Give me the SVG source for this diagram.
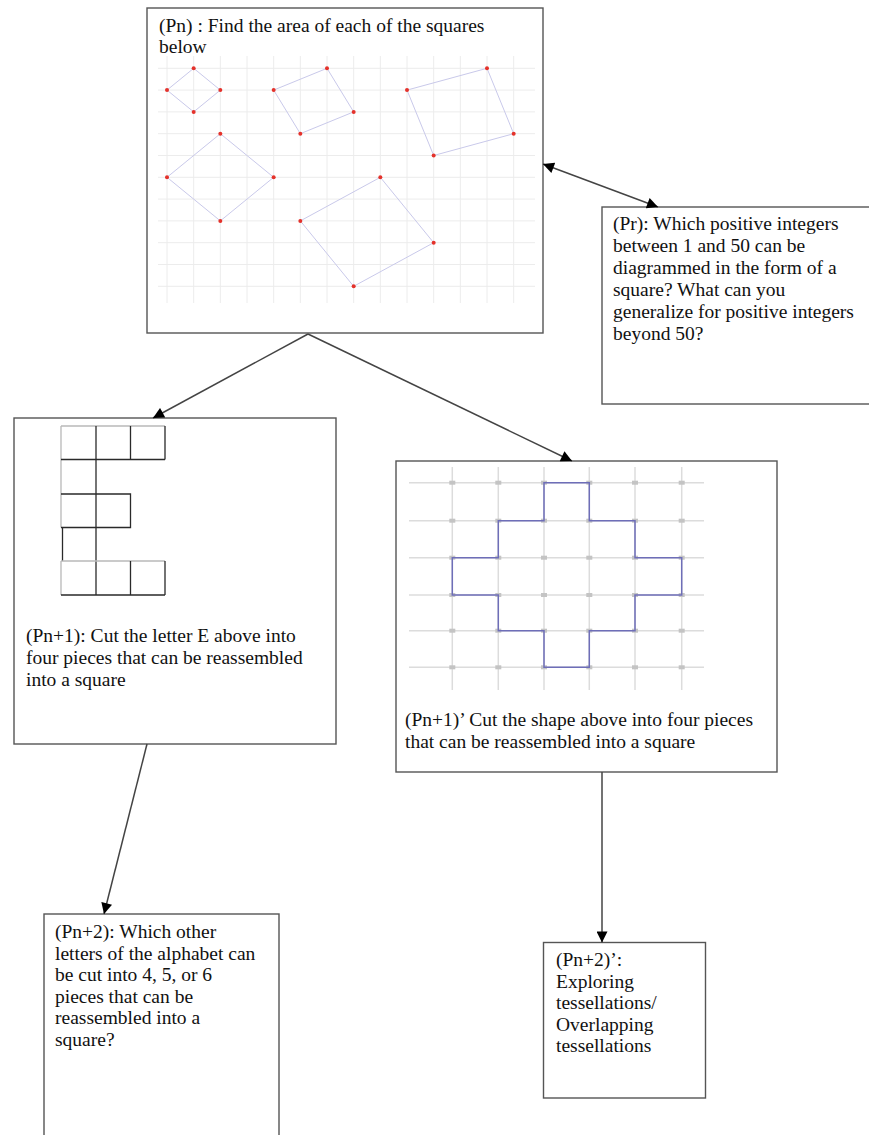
<svg xmlns="http://www.w3.org/2000/svg" width="869" height="1135" viewBox="0 0 869 1135">
<style>
.box{fill:#fff;stroke:#555;stroke-width:1.4}
.t{font-family:"Liberation Serif","Times New Roman",serif;font-size:19.5px;fill:#111}
.g{stroke:#ececec;stroke-width:1}
.sq{fill:none;stroke:#c9c9ea;stroke-width:1}
.dot{fill:#e4322b}
.e1{stroke:#2a2a2a;stroke-width:1.3;fill:none}
.e2{stroke:#b8b8b8;stroke-width:1.3;fill:none}
.cg{stroke:#dcdcdc;stroke-width:1.5}
.cm{fill:#c4c4c4}
.cr{fill:none;stroke:#6e6eb8;stroke-width:1.5}
.c{stroke:#444;stroke-width:1.5;fill:none}
</style>
<defs>
<marker id="ah" viewBox="0 0 10 10" refX="10" refY="5" markerWidth="12" markerHeight="11" markerUnits="userSpaceOnUse" orient="auto-start-reverse">
<path d="M0,0 L10,5 L0,10 z" fill="#000"/>
</marker>
</defs>

<g id="pn">
<rect class="box" x="147" y="8" width="396" height="325"/>
<g>
<line class="g" x1="167" y1="56" x2="167" y2="303"/>
<line class="g" x1="193.67" y1="56" x2="193.67" y2="303"/>
<line class="g" x1="220.33" y1="56" x2="220.33" y2="303"/>
<line class="g" x1="247" y1="56" x2="247" y2="303"/>
<line class="g" x1="273.67" y1="56" x2="273.67" y2="303"/>
<line class="g" x1="300.33" y1="56" x2="300.33" y2="303"/>
<line class="g" x1="327" y1="56" x2="327" y2="303"/>
<line class="g" x1="353.67" y1="56" x2="353.67" y2="303"/>
<line class="g" x1="380.33" y1="56" x2="380.33" y2="303"/>
<line class="g" x1="407" y1="56" x2="407" y2="303"/>
<line class="g" x1="433.67" y1="56" x2="433.67" y2="303"/>
<line class="g" x1="460.33" y1="56" x2="460.33" y2="303"/>
<line class="g" x1="487" y1="56" x2="487" y2="303"/>
<line class="g" x1="513.67" y1="56" x2="513.67" y2="303"/>
<line class="g" x1="158" y1="68.3" x2="535" y2="68.3"/>
<line class="g" x1="158" y1="90.1" x2="535" y2="90.1"/>
<line class="g" x1="158" y1="111.9" x2="535" y2="111.9"/>
<line class="g" x1="158" y1="133.7" x2="535" y2="133.7"/>
<line class="g" x1="158" y1="155.5" x2="535" y2="155.5"/>
<line class="g" x1="158" y1="177.3" x2="535" y2="177.3"/>
<line class="g" x1="158" y1="199.1" x2="535" y2="199.1"/>
<line class="g" x1="158" y1="220.9" x2="535" y2="220.9"/>
<line class="g" x1="158" y1="242.7" x2="535" y2="242.7"/>
<line class="g" x1="158" y1="264.5" x2="535" y2="264.5"/>
<line class="g" x1="158" y1="286.3" x2="535" y2="286.3"/>
</g>
<polygon class="sq" points="193.67,68.3 220.33,90.1 193.67,111.9 167,90.1"/>
<polygon class="sq" points="327,68.3 353.67,111.9 300.33,133.7 273.67,90.1"/>
<polygon class="sq" points="487,68.3 513.67,133.7 433.67,155.5 407,90.1"/>
<polygon class="sq" points="220.33,133.7 273.67,177.3 220.33,220.9 167,177.3"/>
<polygon class="sq" points="380.33,177.3 433.67,242.7 353.67,286.3 300.33,220.9"/>
<g>
<circle class="dot" cx="193.67" cy="68.3" r="2"/><circle class="dot" cx="220.33" cy="90.1" r="2"/><circle class="dot" cx="193.67" cy="111.9" r="2"/><circle class="dot" cx="167" cy="90.1" r="2"/>
<circle class="dot" cx="327" cy="68.3" r="2"/><circle class="dot" cx="353.67" cy="111.9" r="2"/><circle class="dot" cx="300.33" cy="133.7" r="2"/><circle class="dot" cx="273.67" cy="90.1" r="2"/>
<circle class="dot" cx="487" cy="68.3" r="2"/><circle class="dot" cx="513.67" cy="133.7" r="2"/><circle class="dot" cx="433.67" cy="155.5" r="2"/><circle class="dot" cx="407" cy="90.1" r="2"/>
<circle class="dot" cx="220.33" cy="133.7" r="2"/><circle class="dot" cx="273.67" cy="177.3" r="2"/><circle class="dot" cx="220.33" cy="220.9" r="2"/><circle class="dot" cx="167" cy="177.3" r="2"/>
<circle class="dot" cx="380.33" cy="177.3" r="2"/><circle class="dot" cx="433.67" cy="242.7" r="2"/><circle class="dot" cx="353.67" cy="286.3" r="2"/><circle class="dot" cx="300.33" cy="220.9" r="2"/>
</g>
<text class="t" x="159" y="32">(Pn) : Find the area of each of the squares</text>
<text class="t" x="159" y="53">below</text>
</g>

<g id="pr">
<rect class="box" x="602" y="207" width="290" height="197"/>
<text class="t" x="613" y="230">(Pr): Which positive integers</text>
<text class="t" x="613" y="252">between 1 and 50 can be</text>
<text class="t" x="613" y="274">diagrammed in the form of a</text>
<text class="t" x="613" y="296">square? What can you</text>
<text class="t" x="613" y="318">generalize for positive integers</text>
<text class="t" x="613" y="340">beyond 50?</text>
</g>

<g id="pn1">
<rect class="box" x="14" y="418" width="322" height="326"/>
<g>
<path class="e2" d="M61,426 H165"/>
<path class="e2" d="M61,426 V527.5 M61,561 V595"/>
<path class="e1" d="M62.5,527.5 V561"/>
<path class="e1" d="M96,426 V595"/>
<path class="e1" d="M130.5,426 V459.5 M165,426 V459.5"/>
<path class="e1" d="M61,459.5 H165"/>
<path class="e1" d="M61,494 H130.5 V527.5 H61"/>
<path class="e2" d="M61,561 H165"/>
<path class="e1" d="M130.5,561 V595 M165,561 V595 M61,595 H165"/>
</g>
<text class="t" x="26" y="642">(Pn+1): Cut the letter E above into</text>
<text class="t" x="26" y="664">four pieces that can be reassembled</text>
<text class="t" x="26" y="686">into a square</text>
</g>

<g id="pn1b">
<rect class="box" x="396" y="461" width="381" height="311"/>
<g>
<line class="cg" x1="452.3" y1="467" x2="452.3" y2="690"/>
<line class="cg" x1="498.3" y1="467" x2="498.3" y2="690"/>
<line class="cg" x1="544" y1="467" x2="544" y2="690"/>
<line class="cg" x1="589.3" y1="467" x2="589.3" y2="690"/>
<line class="cg" x1="635" y1="467" x2="635" y2="690"/>
<line class="cg" x1="681.7" y1="467" x2="681.7" y2="690"/>
<line class="cg" x1="409" y1="482.7" x2="704" y2="482.7"/>
<line class="cg" x1="409" y1="520.7" x2="704" y2="520.7"/>
<line class="cg" x1="409" y1="557.7" x2="704" y2="557.7"/>
<line class="cg" x1="409" y1="595" x2="704" y2="595"/>
<line class="cg" x1="409" y1="630.7" x2="704" y2="630.7"/>
<line class="cg" x1="409" y1="667.3" x2="704" y2="667.3"/>
</g>
<g>
<rect class="cm" x="449.3" y="480.7" width="6" height="4"/><rect class="cm" x="495.3" y="480.7" width="6" height="4"/><rect class="cm" x="541" y="480.7" width="6" height="4"/><rect class="cm" x="586.3" y="480.7" width="6" height="4"/><rect class="cm" x="632" y="480.7" width="6" height="4"/><rect class="cm" x="678.7" y="480.7" width="6" height="4"/>
<rect class="cm" x="449.3" y="518.7" width="6" height="4"/><rect class="cm" x="495.3" y="518.7" width="6" height="4"/><rect class="cm" x="541" y="518.7" width="6" height="4"/><rect class="cm" x="586.3" y="518.7" width="6" height="4"/><rect class="cm" x="632" y="518.7" width="6" height="4"/><rect class="cm" x="678.7" y="518.7" width="6" height="4"/>
<rect class="cm" x="449.3" y="555.7" width="6" height="4"/><rect class="cm" x="495.3" y="555.7" width="6" height="4"/><rect class="cm" x="541" y="555.7" width="6" height="4"/><rect class="cm" x="586.3" y="555.7" width="6" height="4"/><rect class="cm" x="632" y="555.7" width="6" height="4"/><rect class="cm" x="678.7" y="555.7" width="6" height="4"/>
<rect class="cm" x="449.3" y="593" width="6" height="4"/><rect class="cm" x="495.3" y="593" width="6" height="4"/><rect class="cm" x="541" y="593" width="6" height="4"/><rect class="cm" x="586.3" y="593" width="6" height="4"/><rect class="cm" x="632" y="593" width="6" height="4"/><rect class="cm" x="678.7" y="593" width="6" height="4"/>
<rect class="cm" x="449.3" y="628.7" width="6" height="4"/><rect class="cm" x="495.3" y="628.7" width="6" height="4"/><rect class="cm" x="541" y="628.7" width="6" height="4"/><rect class="cm" x="586.3" y="628.7" width="6" height="4"/><rect class="cm" x="632" y="628.7" width="6" height="4"/><rect class="cm" x="678.7" y="628.7" width="6" height="4"/>
<rect class="cm" x="449.3" y="665.3" width="6" height="4"/><rect class="cm" x="495.3" y="665.3" width="6" height="4"/><rect class="cm" x="541" y="665.3" width="6" height="4"/><rect class="cm" x="586.3" y="665.3" width="6" height="4"/><rect class="cm" x="632" y="665.3" width="6" height="4"/><rect class="cm" x="678.7" y="665.3" width="6" height="4"/>
</g>
<path class="cr" d="M544,482.7 H589.3 V520.7 H635 V557.7 H681.7 V595 H635 V630.7 H589.3 V667.3 H544 V630.7 H498.3 V595 H452.3 V557.7 H498.3 V520.7 H544 Z"/>
<text class="t" x="405" y="726">(Pn+1)’ Cut the shape above into four pieces</text>
<text class="t" x="405" y="748">that can be reassembled into a square</text>
</g>

<g id="pn2">
<rect class="box" x="44" y="914" width="235" height="230"/>
<text class="t" x="55" y="938">(Pn+2): Which other</text>
<text class="t" x="55" y="959.5">letters of the alphabet can</text>
<text class="t" x="55" y="981">be cut into 4, 5, or 6</text>
<text class="t" x="55" y="1002.5">pieces that can be</text>
<text class="t" x="55" y="1024">reassembled into a</text>
<text class="t" x="55" y="1045.5">square?</text>
</g>

<g id="pn2b">
<rect class="box" x="543.5" y="942.5" width="162" height="155.5"/>
<text class="t" x="556" y="966">(Pn+2)’:</text>
<text class="t" x="556" y="987.5">Exploring</text>
<text class="t" x="556" y="1009">tessellations/</text>
<text class="t" x="556" y="1030.5">Overlapping</text>
<text class="t" x="556" y="1052">tessellations</text>
</g>

<g id="connectors">
<line class="c" x1="308" y1="334" x2="153" y2="418" marker-end="url(#ah)"/>
<line class="c" x1="308" y1="334" x2="572" y2="461" marker-end="url(#ah)"/>
<line class="c" x1="543" y1="164" x2="658" y2="207" marker-start="url(#ah)" marker-end="url(#ah)"/>
<line class="c" x1="147" y1="744" x2="104" y2="914" marker-end="url(#ah)"/>
<line class="c" x1="602" y1="772" x2="602" y2="942.5" marker-end="url(#ah)"/>
</g>
</svg>
